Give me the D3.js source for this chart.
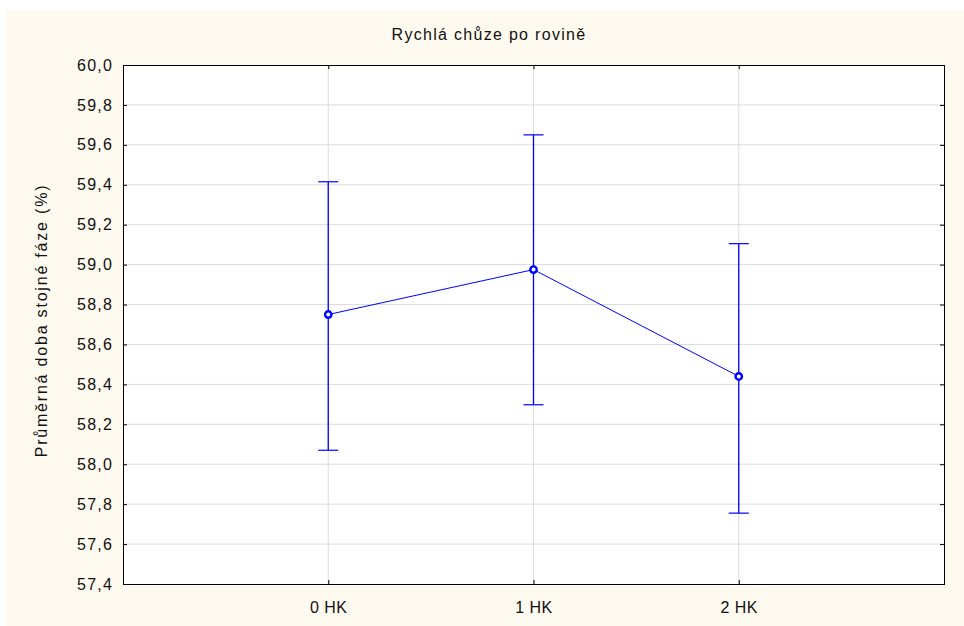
<!DOCTYPE html>
<html>
<head>
<meta charset="utf-8">
<script src="https://cdn.jsdelivr.net/npm/d3@7"></script>
<style>
  body { margin: 0; background: #fff; }
  svg text { font-family: "Liberation Sans", Arial, sans-serif; fill: #111; }
</style>
</head>
<body>
<div class="chart"></div>
<script>
// values
const groups = ["0 HK", "1 HK", "2 HK"];
const means = [58.75, 58.975, 58.44];
const upper = [59.415, 59.65, 59.105];
const lower = [58.07, 58.298, 57.755];
const yTicks = [57.4, 57.6, 57.8, 58.0, 58.2, 58.4, 58.6, 58.8, 59.0, 59.2, 59.4, 59.6, 59.8, 60.0];

const width = 964, height = 626;
const plotL = 123, plotR = 944, plotT = 65, plotB = 584;

let svg = d3.select("div.chart")
    .append("svg")
    .attr("width", width)
    .attr("height", height);

svg.append("rect")
    .attr("x", 6).attr("y", 10)
    .attr("width", width - 6).attr("height", height - 10)
    .attr("fill", "#fffaf0");

svg.append("rect")
    .attr("x", plotL).attr("y", plotT)
    .attr("width", plotR - plotL).attr("height", plotB - plotT)
    .attr("fill", "#fff");

let x = d3.scalePoint().domain(groups).range([plotL, plotR]).padding(1);
let y = d3.scaleLinear().domain([57.4, 60.0]).range([plotB, plotT]);
const fmt = d => d3.format(".1f")(d).replace(".", ",");

// grid
svg.append("g")
    .selectAll("line")
    .data(yTicks.slice(1, -1))
    .enter()
    .append("line")
    .attr("x1", plotL).attr("x2", plotR)
    .attr("y1", d => y(d)).attr("y2", d => y(d))
    .attr("stroke", "#dcdcdc");

svg.append("g")
    .selectAll("line")
    .data(groups)
    .enter()
    .append("line")
    .attr("x1", d => x(d)).attr("x2", d => x(d))
    .attr("y1", plotT).attr("y2", plotB)
    .attr("stroke", "#dcdcdc");

// axes with inward ticks
let yAxisL = d3.axisLeft(y).tickValues(yTicks).tickSize(-4).tickPadding(10).tickFormat(fmt);
let yAxisR = d3.axisRight(y).tickValues(yTicks).tickSize(-4).tickFormat("");
let xAxisB = d3.axisBottom(x).tickSize(-4).tickPadding(18);
let xAxisT = d3.axisTop(x).tickSize(-4).tickFormat("");

function style(g) {
    g.select(".domain").remove();
    g.selectAll("line").attr("stroke", "#000");
    g.selectAll("text").attr("font-size", 16).attr("fill", "#111")
        .attr("font-family", "Liberation Sans, Arial, sans-serif");
}

svg.append("g").attr("transform", `translate(${plotL},0)`).call(yAxisL).call(style)
    .selectAll("text").attr("letter-spacing", 1.2);
svg.append("g").attr("transform", `translate(${plotR},0)`).call(yAxisR).call(style);
svg.append("g").attr("transform", `translate(0,${plotB})`).call(xAxisB).call(style)
    .selectAll("text").attr("letter-spacing", 0.5);
svg.append("g").attr("transform", `translate(0,${plotT})`).call(xAxisT).call(style);

svg.append("rect")
    .attr("x", plotL + 0.5).attr("y", plotT + 0.5)
    .attr("width", plotR - plotL).attr("height", plotB - plotT)
    .attr("fill", "none").attr("stroke", "#000");

// error bars
let bars = svg.append("g").selectAll("g")
    .data(groups)
    .enter()
    .append("g");

bars.append("line")
    .attr("x1", d => x(d)).attr("x2", d => x(d))
    .attr("y1", (d, i) => y(upper[i])).attr("y2", (d, i) => y(lower[i]))
    .attr("stroke", "#0000ff").attr("stroke-width", 1.3);

bars.append("line")
    .attr("x1", d => x(d) - 10).attr("x2", d => x(d) + 10)
    .attr("y1", (d, i) => y(upper[i])).attr("y2", (d, i) => y(upper[i]))
    .attr("stroke", "#0000ff").attr("stroke-width", 1.2);

bars.append("line")
    .attr("x1", d => x(d) - 10).attr("x2", d => x(d) + 10)
    .attr("y1", (d, i) => y(lower[i])).attr("y2", (d, i) => y(lower[i]))
    .attr("stroke", "#0000ff").attr("stroke-width", 1.2);

// mean line
let line = d3.line().x(d => x(d)).y((d, i) => y(means[i]));
svg.append("path")
    .datum(groups)
    .attr("d", line)
    .attr("fill", "none")
    .attr("stroke", "#0000ff")
    .attr("stroke-width", 1);

svg.append("g").selectAll("circle")
    .data(groups)
    .enter()
    .append("circle")
    .attr("cx", d => x(d))
    .attr("cy", (d, i) => y(means[i]))
    .attr("r", 3.2)
    .attr("fill", "#fff")
    .attr("stroke", "#0000ff")
    .attr("stroke-width", 2.4);

// titles
svg.append("text")
    .attr("x", 489).attr("y", 40)
    .attr("text-anchor", "middle")
    .attr("font-size", 16)
    .attr("letter-spacing", 1.3)
    .text("Rychlá chůze po rovině");

svg.append("text")
    .attr("transform", `translate(47,${(plotB + plotT) / 2 - 4}) rotate(-90)`)
    .attr("text-anchor", "middle")
    .attr("font-size", 16)
    .attr("letter-spacing", 1.8)
    .text("Průměrná doba stojné fáze (%)");
</script>
</body>
</html>
